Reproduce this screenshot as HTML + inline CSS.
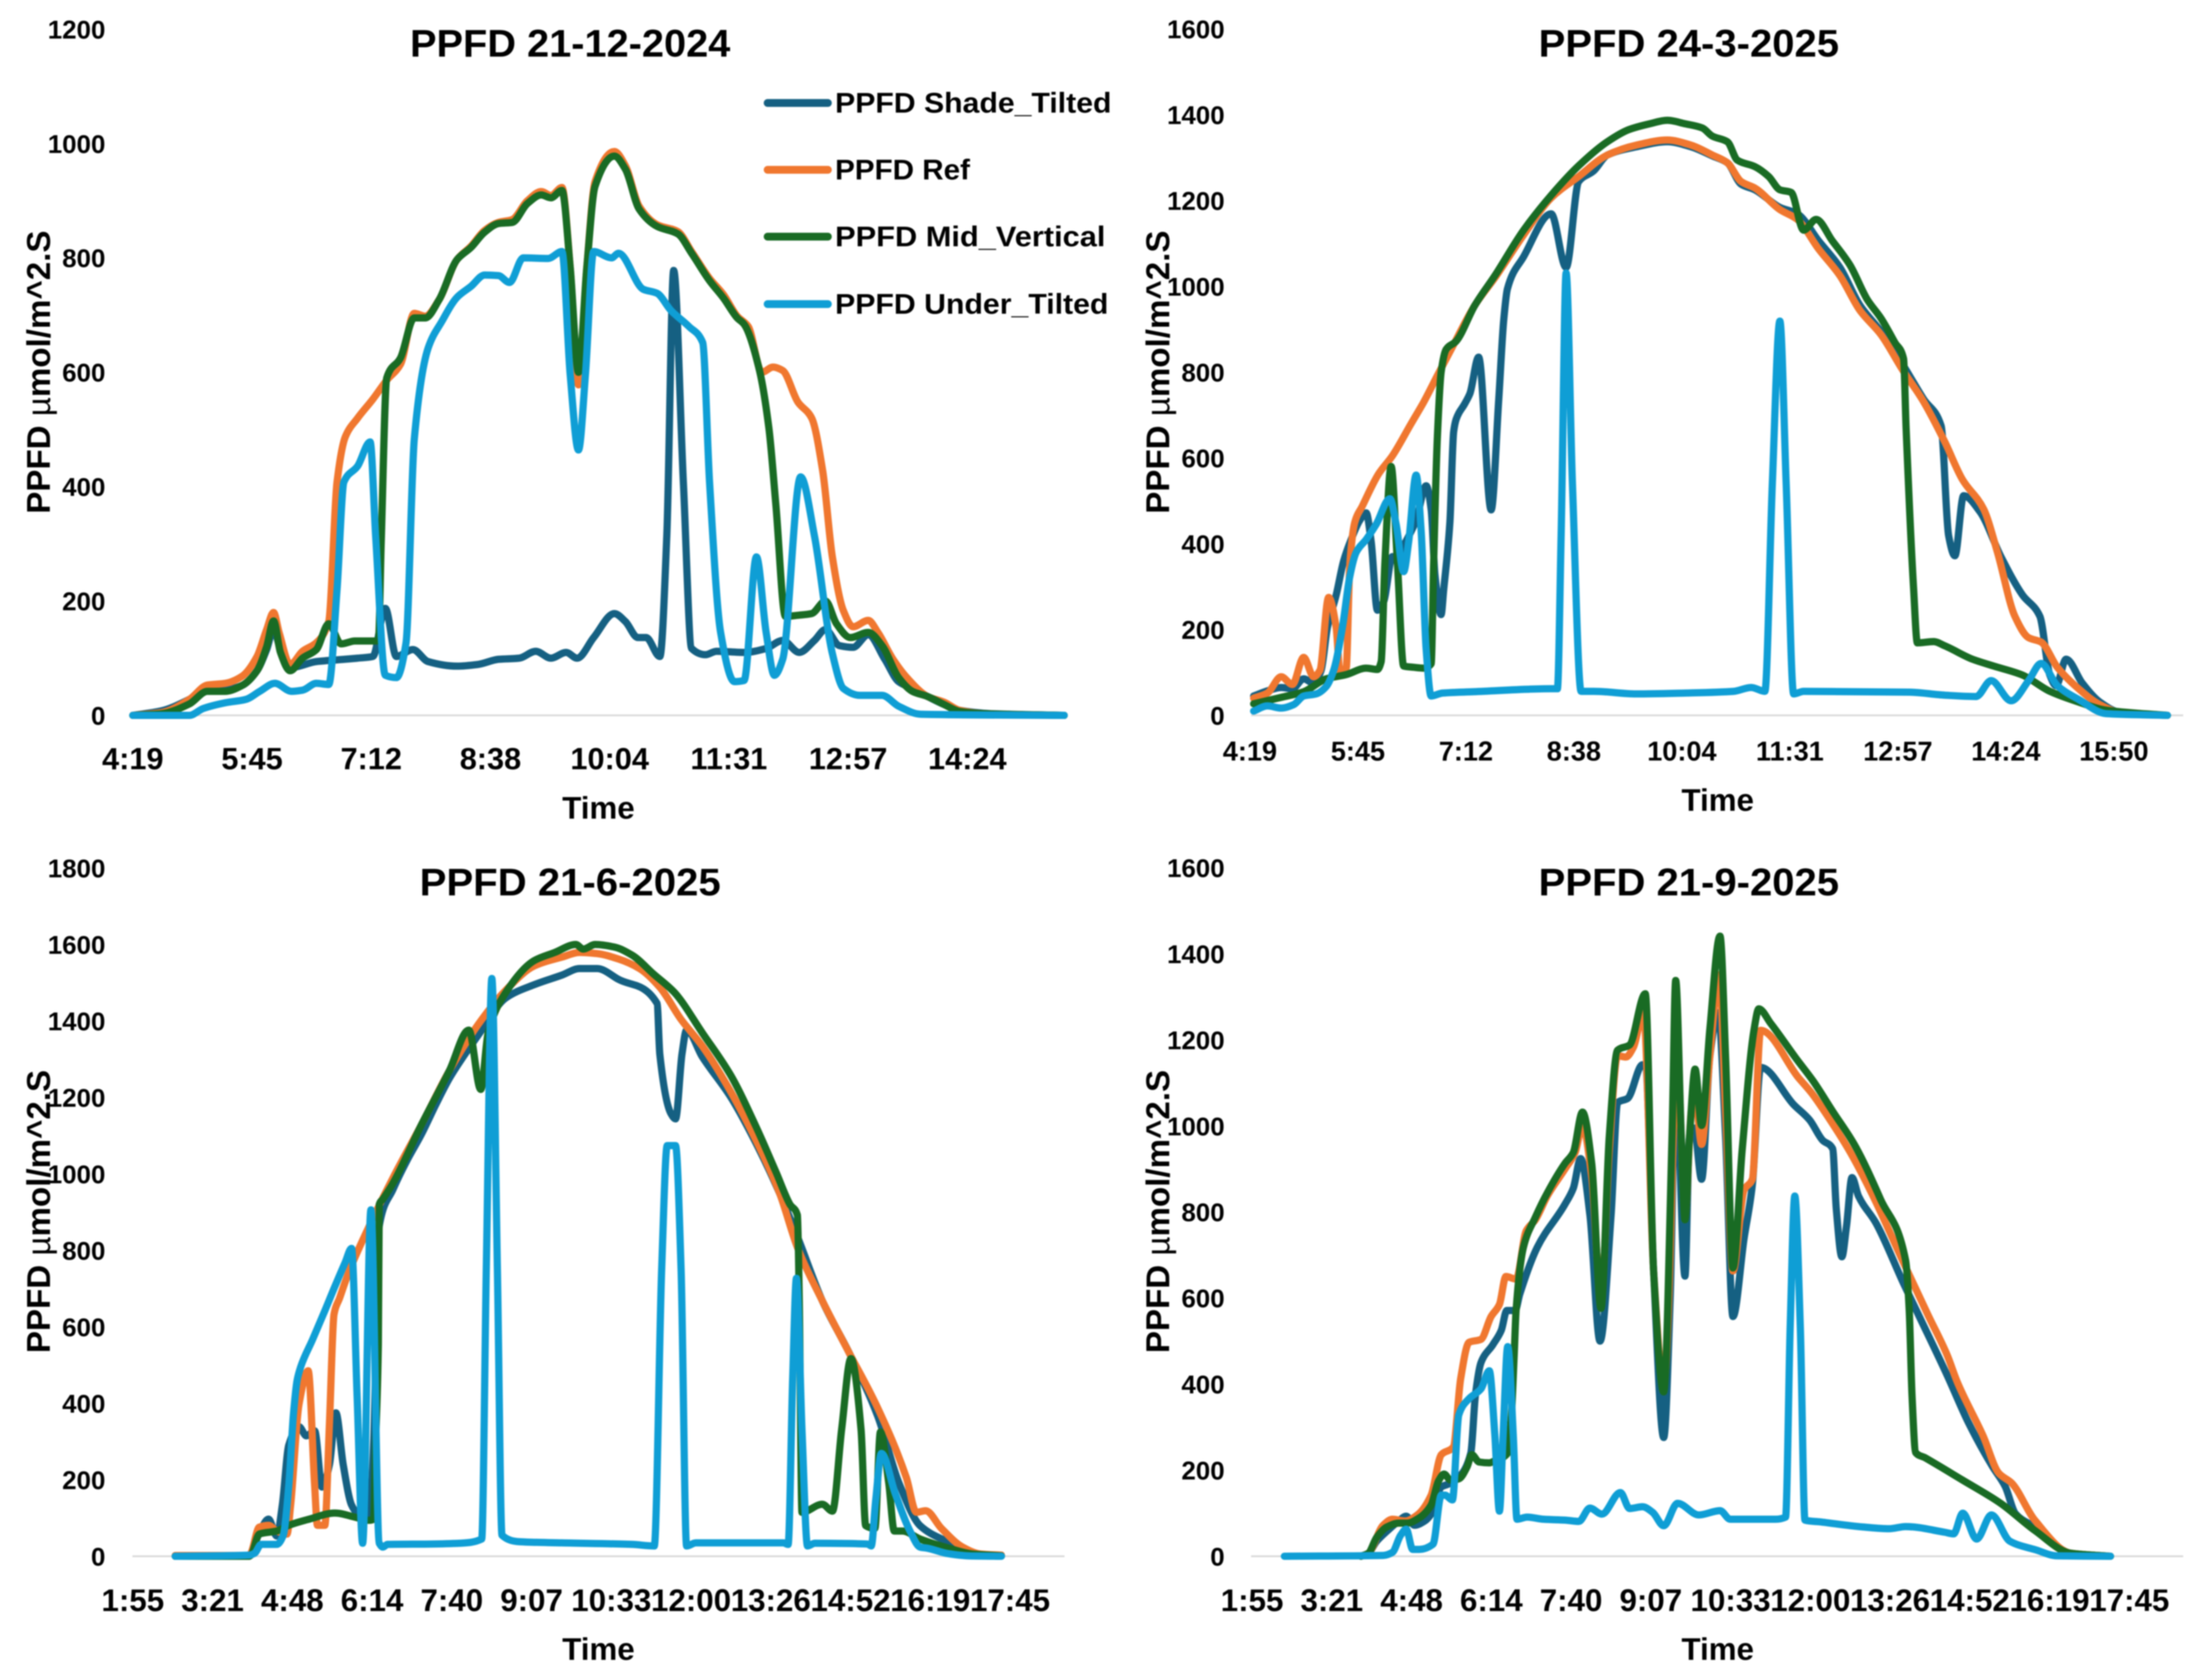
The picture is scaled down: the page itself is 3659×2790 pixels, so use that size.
<!DOCTYPE html>
<html lang="en">
<head>
<meta charset="utf-8">
<title>PPFD charts</title>
<style>
html,body{margin:0;padding:0;background:#fff;}
#figure{display:block;width:3659px;height:2790px;filter:blur(1px);font-family:"Liberation Sans",Arial,sans-serif;font-weight:bold;}
</style>
</head>
<body>
<svg id="figure" xmlns="http://www.w3.org/2000/svg" width="3659" height="2790" viewBox="0 0 3659 2790">
  <rect width="3659" height="2790" fill="#ffffff"/>
  <g id="panels"></g>
  <g font-size="47" fill="#000">
    <g>
      <line x1="1275" y1="171" x2="1375" y2="171" stroke="#156082" stroke-width="13" stroke-linecap="round"/>
      <text x="1387" y="187" textLength="459" lengthAdjust="spacingAndGlyphs">PPFD Shade_Tilted</text>
    </g>
    <g>
      <line x1="1275" y1="282" x2="1375" y2="282" stroke="#F0772F" stroke-width="13" stroke-linecap="round"/>
      <text x="1387" y="298" textLength="224" lengthAdjust="spacingAndGlyphs">PPFD Ref</text>
    </g>
    <g>
      <line x1="1275" y1="393" x2="1375" y2="393" stroke="#196B24" stroke-width="13" stroke-linecap="round"/>
      <text x="1387" y="409" textLength="449" lengthAdjust="spacingAndGlyphs">PPFD Mid_Vertical</text>
    </g>
    <g>
      <line x1="1275" y1="505" x2="1375" y2="505" stroke="#0F9ED5" stroke-width="13" stroke-linecap="round"/>
      <text x="1387" y="521" textLength="454" lengthAdjust="spacingAndGlyphs">PPFD Under_Tilted</text>
    </g>
  </g>
</svg>
<script>
// Tick labels
const xTicksA = ["4:19","5:45","7:12","8:38","10:04","11:31","12:57","14:24"];
const xTicksB = ["4:19","5:45","7:12","8:38","10:04","11:31","12:57","14:24","15:50"];
const xTicksC = ["1:55","3:21","4:48","6:14","7:40","9:07","10:33","12:00","13:26","14:52","16:19","17:45"];
const yTicksDec = [0,200,400,600,800,1000,1200];
const yTicksMar = [0,200,400,600,800,1000,1200,1400,1600];
const yTicksJun = [0,200,400,600,800,1000,1200,1400,1600,1800];
const yTicksSep = [0,200,400,600,800,1000,1200,1400,1600];

// Series: [minutes after midnight, PPFD]
// 21-12-2024
const decShade = [[259,0],[280,8],[300,28],[313,45],[326,45],[338,52],[349,78],[356,115],[361,150],[366,115],[374,84],[392,94],[407,97],[422,100],[433,103],[442,187],[450,103],[462,115],[473,94],[494,86],[509,89],[524,98],[539,100],[551,112],[562,100],[573,110],[581,100],[593,136],[608,178],[616,164],[625,136],[631,136],[641,103],[646,314],[651,778],[658,408],[664,117],[674,106],[682,112],[702,110],[718,117],[730,131],[742,110],[753,131],[761,150],[771,122],[781,119],[792,141],[804,98],[814,59],[824,47],[835,33],[847,19],[858,9],[881,3],[934,0]];
const decRef = [[259,0],[280,5],[300,28],[313,53],[326,56],[338,68],[349,103],[356,150],[361,180],[365,145],[373,89],[382,112],[392,127],[401,164],[407,408],[413,487],[422,520],[433,553],[443,586],[453,614],[463,703],[471,698],[481,727],[494,797],[504,820],[514,848],[524,862],[534,867],[545,900],[555,916],[562,909],[570,923],[576,783],[582,578],[588,783],[594,933],[608,986],[616,961],[626,890],[639,858],[654,846],[664,811],[677,764],[687,736],[697,698],[705,680],[715,600],[723,609],[730,603],[741,548],[751,520],[759,427],[766,277],[774,183],[781,155],[792,166],[799,145],[810,98],[820,66],[835,33],[847,23],[858,9],[875,3],[934,0]];
const decMid = [[259,0],[280,3],[300,20],[313,42],[326,42],[338,52],[349,78],[356,120],[361,165],[366,110],[373,78],[382,100],[392,115],[401,160],[410,125],[420,130],[433,130],[437,130],[439,300],[443,590],[453,625],[463,695],[471,695],[481,727],[494,797],[504,818],[514,845],[524,860],[534,862],[545,895],[555,910],[562,905],[570,918],[576,783],[582,600],[588,783],[594,925],[608,978],[616,955],[626,885],[639,855],[654,842],[664,808],[677,760],[687,730],[697,695],[702,684],[713,605],[720,502],[725,370],[732,173],[741,175],[751,178],[761,200],[769,160],[779,136],[792,145],[802,122],[814,66],[824,42],[835,33],[847,19],[858,7],[875,3],[934,0]];
const decUnder = [[259,0],[300,0],[310,12],[326,22],[341,28],[351,42],[362,56],[374,42],[382,44],[392,56],[401,54],[407,220],[412,408],[422,436],[431,478],[435,314],[442,70],[450,66],[457,127],[463,483],[473,642],[483,689],[494,731],[504,750],[514,770],[524,769],[532,757],[542,800],[560,799],[570,811],[576,595],[582,464],[587,595],[593,811],[606,800],[611,808],[629,745],[639,738],[649,708],[662,680],[672,652],[677,408],[685,145],[695,59],[702,61],[711,277],[718,145],[724,70],[730,98],[743,417],[753,314],[766,108],[774,47],[786,35],[802,35],[814,16],[830,2],[934,0]];

// 24-3-2025
const marShade = [[262,45],[273,57],[284,65],[293,62],[302,85],[310,75],[316,105],[321,205],[328,280],[334,360],[340,410],[347,455],[352,472],[356,405],[361,245],[366,265],[373,370],[377,365],[382,395],[392,455],[400,535],[404,480],[407,330],[412,235],[414,292],[419,451],[422,661],[424,690],[431,727],[435,750],[442,835],[452,479],[458,732],[462,919],[465,994],[478,1069],[500,1169],[512,1044],[522,1244],[534,1269],[545,1306],[568,1325],[593,1337],[612,1325],[629,1304],[641,1288],[652,1238],[663,1225],[683,1184],[697,1169],[714,1106],[731,1044],[747,956],[764,894],[781,819],[798,737],[812,675],[818,419],[823,372],[830,512],[843,475],[860,369],[877,281],[891,231],[899,94],[904,69],[912,131],[925,75],[939,31],[956,6],[993,0]];
const marRef = [[262,40],[273,52],[284,90],[293,72],[302,135],[310,90],[315,105],[322,275],[328,205],[331,105],[336,110],[339,355],[343,451],[349,488],[362,563],[373,605],[388,680],[398,730],[409,792],[420,853],[439,956],[455,1020],[478,1120],[500,1206],[522,1256],[545,1306],[568,1329],[593,1341],[612,1329],[629,1306],[641,1288],[652,1244],[663,1229],[683,1179],[697,1156],[714,1087],[731,1025],[747,944],[764,887],[781,806],[798,731],[815,637],[829,550],[846,481],[857,381],[871,231],[882,181],[892,171],[905,112],[922,62],[939,25],[956,6],[993,0]];
const marMid = [[262,27],[284,42],[302,55],[320,85],[336,95],[352,110],[361,107],[364,125],[367,355],[372,580],[377,355],[382,115],[390,112],[398,110],[404,120],[406,355],[409,650],[412,800],[416,853],[424,872],[439,956],[455,1025],[478,1131],[500,1212],[522,1281],[545,1337],[562,1365],[579,1379],[593,1387],[607,1379],[621,1369],[629,1350],[641,1337],[649,1294],[663,1279],[674,1256],[683,1225],[692,1219],[702,1131],[712,1156],[725,1106],[739,1050],[753,969],[764,925],[775,869],[782,831],[784,669],[790,294],[793,169],[806,172],[815,162],[837,131],[854,115],[877,94],[899,56],[922,31],[944,12],[993,0]];
const marUnder = [[262,10],[273,22],[284,17],[294,25],[302,45],[312,50],[320,67],[326,105],[333,205],[339,325],[344,380],[352,410],[360,445],[371,505],[376,445],[382,335],[386,405],[392,560],[396,430],[400,155],[404,45],[413,52],[438,55],[500,62],[505,62],[508,419],[512,1031],[517,544],[524,56],[534,56],[568,50],[607,52],[646,56],[660,65],[671,56],[677,544],[683,919],[688,544],[694,50],[702,56],[787,54],[815,47],[840,44],[852,81],[868,34],[882,81],[892,121],[905,69],[922,37],[944,4],[993,0]];

// 21-6-2025
const junShade = [[161,0],[241,0],[243,8],[252,60],[262,97],[271,53],[277,134],[284,291],[295,339],[303,315],[312,328],[320,181],[328,239],[335,375],[343,239],[352,134],[358,113],[371,97],[376,300],[382,864],[397,960],[412,1035],[428,1105],[443,1180],[458,1250],[474,1310],[489,1362],[519,1460],[550,1495],[580,1520],[599,1537],[618,1537],[641,1509],[683,1446],[686,1313],[698,1158],[703,1144],[710,1313],[715,1376],[732,1306],[763,1200],[793,1067],[816,948],[835,836],[862,668],[892,528],[922,367],[945,192],[968,80],[998,38],[1029,7],[1056,1]];
const junRef = [[161,2],[241,2],[243,8],[252,76],[262,81],[271,66],[282,58],[286,134],[295,396],[305,485],[312,186],[315,81],[323,81],[328,344],[333,633],[339,675],[349,743],[374,878],[397,990],[428,1130],[458,1270],[489,1390],[519,1480],[550,1544],[580,1567],[599,1579],[618,1576],[641,1562],[664,1537],[686,1488],[709,1404],[732,1334],[763,1214],[793,1074],[816,948],[835,808],[862,668],[892,528],[922,388],[953,206],[964,115],[974,119],[991,73],[1014,24],[1033,6],[1056,3]];
const junMid = [[161,0],[241,0],[243,3],[252,58],[271,66],[284,81],[306,97],[334,113],[356,102],[371,94],[376,97],[378,291],[381,554],[382,920],[386,934],[397,976],[428,1130],[458,1270],[479,1376],[492,1221],[500,1369],[519,1474],[550,1558],[572,1579],[595,1600],[603,1588],[616,1600],[637,1593],[656,1572],[679,1523],[702,1474],[732,1369],[763,1257],[789,1130],[812,1004],[827,920],[835,892],[837,682],[840,115],[862,136],[873,118],[883,332],[893,517],[904,332],[909,80],[919,73],[925,325],[934,192],[940,66],[949,66],[968,45],[995,24],[1025,6],[1056,1]];
const junUnder = [[161,0],[241,3],[247,8],[254,31],[271,31],[278,55],[284,186],[289,370],[293,460],[297,496],[310,568],[323,642],[335,712],[345,768],[352,805],[358,420],[364,34],[373,906],[382,34],[386,24],[391,31],[437,32],[469,34],[493,45],[498,752],[504,1511],[510,752],[515,55],[534,38],[580,35],[656,31],[680,27],[688,752],[694,1074],[703,1074],[709,752],[715,27],[725,35],[820,35],[825,31],[830,472],[834,727],[840,332],[846,27],[854,34],[911,32],[915,27],[920,150],[926,269],[941,164],[957,66],[968,24],[976,21],[998,7],[1021,1],[1056,0]];

// 21-9-2025
const sepShade = [[233,0],[241,7],[250,35],[261,58],[274,82],[282,93],[291,72],[302,82],[311,105],[320,161],[328,168],[339,184],[352,240],[357,375],[363,450],[376,492],[385,525],[391,571],[400,571],[405,609],[424,718],[454,818],[463,855],[471,924],[481,793],[492,500],[504,793],[511,1054],[522,1064],[538,1142],[541,1138],[550,663],[561,276],[568,600],[574,1132],[584,651],[589,976],[594,995],[602,876],[611,1163],[620,1263],[628,976],[636,557],[648,738],[657,863],[666,1136],[702,1049],[719,1014],[733,967],[744,947],[748,806],[754,696],[759,767],[765,880],[772,837],[791,774],[821,633],[835,570],[868,421],[891,311],[917,209],[931,162],[942,99],[963,68],[1002,7],[1045,0]];
const sepRef = [[233,0],[241,7],[257,72],[267,86],[281,82],[294,96],[309,142],[320,236],[333,254],[341,413],[350,497],[363,504],[374,557],[383,585],[390,650],[401,644],[412,756],[422,782],[435,838],[454,900],[465,938],[473,1000],[483,882],[493,600],[502,944],[511,1163],[520,1160],[528,1182],[539,1263],[550,663],[561,400],[572,1038],[574,1288],[581,913],[584,788],[591,1038],[595,1069],[602,957],[611,1163],[621,1351],[628,1038],[636,663],[648,851],[657,876],[666,1222],[707,1112],[721,1077],[740,1018],[763,939],[786,845],[823,672],[847,562],[868,468],[879,405],[907,280],[924,193],[938,170],[963,84],[1002,7],[1045,0]];
const sepMid = [[233,0],[241,7],[250,44],[261,68],[274,77],[283,77],[296,89],[309,119],[317,175],[323,191],[330,177],[339,180],[348,208],[353,236],[361,219],[372,217],[378,222],[392,240],[396,329],[399,469],[401,569],[409,718],[422,788],[435,845],[454,913],[463,938],[473,1032],[483,913],[493,576],[502,976],[511,1176],[524,1188],[541,1307],[550,663],[561,382],[570,976],[574,1338],[580,976],[584,782],[589,976],[595,1132],[602,1001],[611,1226],[622,1441],[628,1163],[636,670],[646,944],[659,1226],[664,1272],[677,1238],[705,1155],[723,1104],[744,1034],[768,955],[796,829],[823,688],[827,570],[830,374],[834,241],[844,229],[884,178],[926,123],[963,60],[1002,7],[1045,0]];
const sepUnder = [[150,0],[257,2],[267,9],[276,49],[282,63],[289,16],[296,16],[311,28],[320,142],[324,142],[332,131],[339,329],[350,366],[363,389],[372,431],[378,282],[383,105],[387,282],[392,487],[398,282],[402,86],[413,91],[431,86],[454,84],[469,81],[481,112],[494,98],[514,148],[524,111],[538,115],[549,102],[561,71],[576,123],[599,96],[622,106],[633,86],[682,86],[693,91],[698,531],[703,837],[709,531],[714,84],[730,80],[777,68],[805,64],[823,69],[865,56],[875,52],[885,100],[900,40],[916,96],[936,35],[964,15],[987,1],[1045,0]];

const TICK_STEP_MINUTES = 86.4;
const SVG_NS = "http://www.w3.org/2000/svg";

const seriesStyles = [
  {key: "shade", color: "#156082"},
  {key: "ref", color: "#F0772F"},
  {key: "mid", color: "#196B24"},
  {key: "under", color: "#0F9ED5"}
];

const panels = [
  {id: "dec", title: "PPFD 21-12-2024", titleX: 947, titleY: 71, titleW: 532,
   originX: 220.6, pxPerMin: 2.2917, originY: 1188, pxPerUnit: 0.9497,
   axisStart: 220, axisEnd: 1768, yLabelX: 175, xLabelY: 1259, xLabelSize: 51,
   axisTitleX: 994, axisTitleY: 1341, yTitleX: 64, yTitleY: 618,
   xTicks: xTicksA, yTicks: yTicksDec, series: [decShade, decRef, decMid, decUnder]},
  {id: "mar", title: "PPFD 24-3-2025", titleX: 2805, titleY: 71, titleW: 499,
   originX: 2076, pxPerMin: 2.076, originY: 1188, pxPerUnit: 0.7125,
   axisStart: 2078, axisEnd: 3626, yLabelX: 2034, xLabelY: 1247, xLabelSize: 45,
   axisTitleX: 2853, axisTitleY: 1328, yTitleX: 1923, yTitleY: 618,
   xTicks: xTicksB, yTicks: yTicksMar, series: [marShade, marRef, marMid, marUnder]},
  {id: "jun", title: "PPFD 21-6-2025", titleX: 947, titleY: 1464, titleW: 500,
   originX: 220.6, pxPerMin: 1.533, originY: 2584.5, pxPerUnit: 0.635,
   axisStart: 220, axisEnd: 1768, yLabelX: 175, xLabelY: 2657, xLabelSize: 52,
   axisTitleX: 994, axisTitleY: 2738, yTitleX: 64, yTitleY: 2012,
   xTicks: xTicksC, yTicks: yTicksJun, series: [junShade, junRef, junMid, junUnder]},
  {id: "sep", title: "PPFD 21-9-2025", titleX: 2805, titleY: 1464, titleW: 499,
   originX: 2079.6, pxPerMin: 1.533, originY: 2584.5, pxPerUnit: 0.7147,
   axisStart: 2078, axisEnd: 3626, yLabelX: 2034, xLabelY: 2657, xLabelSize: 52,
   axisTitleX: 2853, axisTitleY: 2738, yTitleX: 1923, yTitleY: 2012,
   xTicks: xTicksC, yTicks: yTicksSep, series: [sepShade, sepRef, sepMid, sepUnder]}
];

function parseClock(label) {
  const parts = label.split(":");
  return Number(parts[0]) * 60 + Number(parts[1]);
}

function makeText(parent, x, centerY, str, size, anchor, name) {
  const el = document.createElementNS(SVG_NS, "text");
  el.setAttribute("x", x);
  el.setAttribute("y", centerY + size * 0.36);
  el.setAttribute("font-size", size);
  el.setAttribute("text-anchor", anchor);
  el.setAttribute("fill", "#000");
  
  
  el.textContent = str;
  parent.appendChild(el);
  return el;
}

function monotonePath(points) {
  const pts = points.filter(function (p, i) { return i === 0 || p[0] > points[i - 1][0]; });
  const n = pts.length;
  const slopes = [];
  for (let i = 0; i < n - 1; i++) {
    slopes.push((pts[i + 1][1] - pts[i][1]) / (pts[i + 1][0] - pts[i][0]));
  }
  const tangents = [slopes[0]];
  for (let i = 1; i < n - 1; i++) {
    const a = slopes[i - 1], b = slopes[i];
    if (a * b <= 0) {
      tangents.push(0);
    } else {
      const h0 = pts[i][0] - pts[i - 1][0], h1 = pts[i + 1][0] - pts[i][0];
      tangents.push(3 * (h0 + h1) / ((2 * h1 + h0) / a + (h1 + 2 * h0) / b));
    }
  }
  tangents.push(slopes[n - 2]);
  let d = "M" + pts[0][0].toFixed(1) + " " + pts[0][1].toFixed(1);
  for (let i = 0; i < n - 1; i++) {
    const h = (pts[i + 1][0] - pts[i][0]) / 3;
    d += "C" + (pts[i][0] + h).toFixed(1) + " " + (pts[i][1] + tangents[i] * h).toFixed(1) + " " +
      (pts[i + 1][0] - h).toFixed(1) + " " + (pts[i + 1][1] - tangents[i + 1] * h).toFixed(1) + " " +
      pts[i + 1][0].toFixed(1) + " " + pts[i + 1][1].toFixed(1);
  }
  return d;
}

const root = document.getElementById("panels");

panels.forEach(function (panel) {
  const firstTick = parseClock(panel.xTicks[0]);
  const xScale = function (minutes) { return panel.originX + (minutes - firstTick) * panel.pxPerMin; };
  const yScale = function (value) { return panel.originY - value * panel.pxPerUnit; };

  const group = document.createElementNS(SVG_NS, "g");
  
  
  root.appendChild(group);

  const title = makeText(group, panel.titleX, panel.titleY, panel.title, 64, "middle", "chart-title-" + panel.id);
  title.setAttribute("textLength", panel.titleW);
  title.setAttribute("lengthAdjust", "spacingAndGlyphs");

  panel.yTicks.forEach(function (value) {
    makeText(group, panel.yLabelX, yScale(value), String(value), 43, "end", "y-tick-" + panel.id + "-" + value);
  });

  panel.xTicks.forEach(function (label, i) {
    makeText(group, xScale(firstTick + i * TICK_STEP_MINUTES), panel.xLabelY, label, panel.xLabelSize, "middle", "x-tick-" + panel.id + "-" + i);
  });

  makeText(group, panel.axisTitleX, panel.axisTitleY, "Time", 52, "middle", "x-axis-title-" + panel.id);

  const yTitle = makeText(group, 0, 0, "", 55, "middle", "y-axis-title-" + panel.id);
  yTitle.setAttribute("y", 19);
  yTitle.setAttribute("transform", "translate(" + panel.yTitleX + " " + panel.yTitleY + ") rotate(-90)");
  yTitle.appendChild(document.createTextNode("PPFD "));
  const micro = document.createElementNS(SVG_NS, "tspan");
  micro.setAttribute("font-weight", "normal");
  
  
  micro.textContent = "\u00B5";
  yTitle.appendChild(micro);
  yTitle.appendChild(document.createTextNode("mol/m^2.S"));

  const axis = document.createElementNS(SVG_NS, "line");
  axis.setAttribute("x1", panel.axisStart);
  axis.setAttribute("x2", panel.axisEnd);
  axis.setAttribute("y1", panel.originY);
  axis.setAttribute("y2", panel.originY);
  axis.setAttribute("stroke", "#d9d9d9");
  axis.setAttribute("stroke-width", 3);
  
  
  group.appendChild(axis);

  panel.series.forEach(function (data, i) {
    const points = data.map(function (p) { return [xScale(p[0]), yScale(p[1])]; });
    const line = document.createElementNS(SVG_NS, "path");
    line.setAttribute("d", monotonePath(points));
    line.setAttribute("fill", "none");
    line.setAttribute("stroke", seriesStyles[i].color);
    line.setAttribute("stroke-width", 12);
    line.setAttribute("stroke-linecap", "round");
    line.setAttribute("stroke-linejoin", "round");
    
    
    group.appendChild(line);
  });
});
</script>
</body>
</html>
